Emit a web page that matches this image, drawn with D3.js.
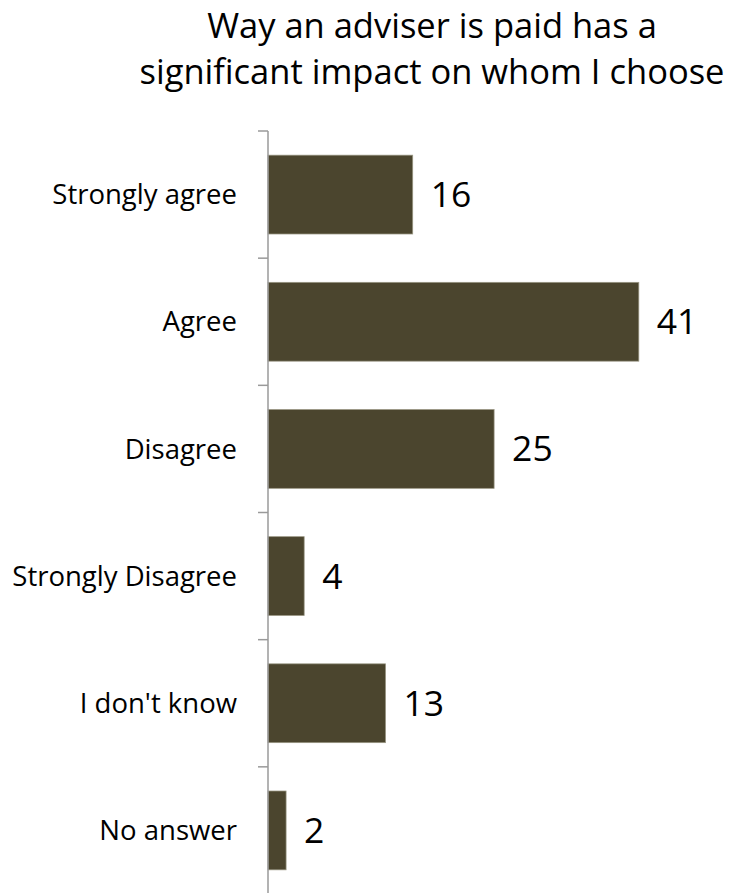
<!DOCTYPE html>
<html>
<head>
<meta charset="utf-8">
<script src="https://cdn.jsdelivr.net/npm/d3@7"></script>
<style>
  html, body { margin: 0; padding: 0; background: #fff; }
  svg { display: block; }
  text { font-family: "Open Sans", "Noto Sans", sans-serif; fill: #000; }
</style>
</head>
<body>
<svg id="chart" width="736" height="893"></svg>
<script>
// Survey responses (percent of respondents)
const categories = ["Strongly agree", "Agree", "Disagree", "Strongly Disagree", "I don't know", "No answer"];
const values = [16, 41, 25, 4, 13, 2];
const titleLines = ["Way an adviser is paid has a", "significant impact on whom I choose"];

const width = 736, height = 893;
const margin = { top: 131, left: 268, right: 61, bottom: -1 };

const svg = d3.select("#chart");

const x = d3.scaleLinear()
  .domain([0, 45])
  .range([margin.left, width - margin.right]);

const y = d3.scaleBand()
  .domain(categories)
  .range([margin.top, height - margin.bottom])
  .paddingInner(0.38)
  .paddingOuter(0.19);

// Two-line title in a single text element
svg.append("text")
  .attr("text-anchor", "middle")
  .style("font-size", "34.5px")
  .selectAll("tspan")
  .data(titleLines)
  .join("tspan")
  .attr("x", 432)
  .attr("y", (d, i) => 38 + i * 46)
  .text(d => d);

// Bars
svg.append("g")
  .selectAll("rect")
  .data(values)
  .join("rect")
  .attr("x", x(0))
  .attr("y", (d, i) => y(categories[i]))
  .attr("width", d => x(d) - x(0))
  .attr("height", y.bandwidth())
  .attr("fill", "#4b452e")
  .attr("stroke", "#9a9784")
  .attr("stroke-width", 0.75);

// Category axis: vertical line with ticks on band boundaries
const axis = svg.append("g");
const [r0, r1] = y.range();
axis.append("line")
  .attr("x1", x(0)).attr("x2", x(0))
  .attr("y1", r0).attr("y2", r1)
  .attr("stroke", "#9a9a9a").attr("stroke-width", 1.5);
axis.selectAll("line.tick")
  .data(d3.range(categories.length + 1))
  .join("line")
  .attr("class", "tick")
  .attr("x1", x(0) - 10).attr("x2", x(0))
  .attr("y1", i => r0 + i * y.step())
  .attr("y2", i => r0 + i * y.step())
  .attr("stroke", "#9a9a9a").attr("stroke-width", 1.5);

// Category labels
svg.append("g")
  .selectAll("text")
  .data(categories)
  .join("text")
  .attr("x", x(0) - 31)
  .attr("y", d => y(d) + y.bandwidth() / 2)
  .attr("dy", "0.35em")
  .attr("text-anchor", "end")
  .style("font-size", "27.5px")
  .text(d => d);

// Value labels
svg.append("g")
  .selectAll("text")
  .data(values)
  .join("text")
  .attr("x", d => x(d) + 18)
  .attr("y", (d, i) => y(categories[i]) + y.bandwidth() / 2)
  .attr("dy", "0.35em")
  .style("font-size", "35.5px")
  .text(d => d);
</script>
</body>
</html>
